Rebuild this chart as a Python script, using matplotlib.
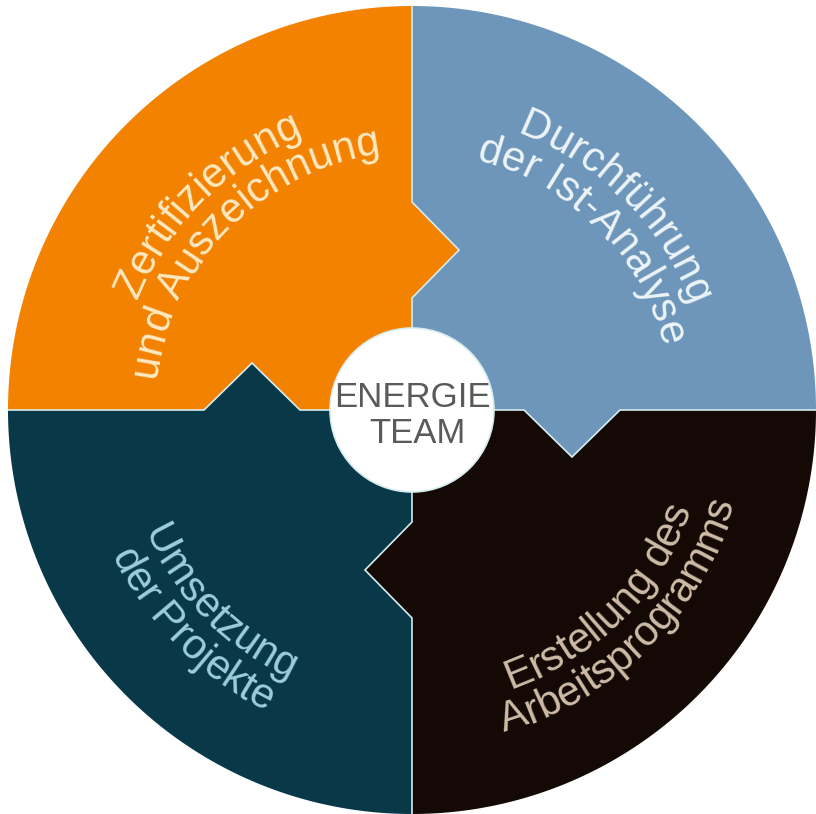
import numpy as np
import matplotlib.pyplot as plt
from matplotlib.patches import Polygon, Circle
from matplotlib.font_manager import FontProperties, findfont
from matplotlib.ft2font import FT2Font

# Phasen des Kreislaufs (gegen den Uhrzeigersinn ab 0°)
phase_lines = [["Durchführung", "der Ist-Analyse"],
               ["Zertifizierung", "und Auszeichnung"],
               ["Umsetzung", "der Projekte"],
               ["Erstellung des", "Arbeitsprogramms"]]
phase_colors = ["#6D96BA", "#F28200", "#093848", "#140904"]
text_colors = ["#EEF4F8", "#FFE9C2", "#9CCFDB", "#CDBCA6"]
start_angles = [0, 90, 180, 270]
center_label = ["ENERGIE", "TEAM"]

R = 404          # Radius des Kreises (px)
r_center = 82    # weißer Mittelkreis
notch = (112, 160, 208, 47)   # Beginn, Spitze, Ende, Tiefe der Pfeilkerbe
FS = 30          # Schriftgröße (pt)

fp = FontProperties(family="Liberation Sans", size=FS)
ft = FT2Font(findfont(fp))
ft.set_size(FS, 100)


def advance(c):
    g = ft.load_char(ord(c))
    return g.linearHoriAdvance / 65536


def divider(phi):
    # Trennlinie vom Zentrum nach außen, mit Pfeil im Uhrzeigersinn
    a = np.radians(phi)
    u = np.array([np.cos(a), np.sin(a)])
    v = np.array([np.cos(a - np.pi / 2), np.sin(a - np.pi / 2)])
    r0, rm, r1, d = notch
    return [u * 0, u * r0, u * rm + v * d, u * r1, u * R]


def arc_text(ax, s, r, mid, outward, color):
    w = np.array([advance(c) for c in s])
    pos = np.cumsum(w) - w / 2 - w.sum() / 2
    for c, p in zip(s, pos):
        if outward:
            th = np.radians(mid) - p / r
            rot = np.degrees(th) - 90
        else:
            th = np.radians(mid) + p / r
            rot = np.degrees(th) + 90
        ax.text(r * np.cos(th), r * np.sin(th), c, rotation=rot,
                rotation_mode="anchor", ha="center", va="baseline",
                fontproperties=fp, color=color)


fig = plt.figure(figsize=(8.16, 8.14), dpi=100)
ax = fig.add_axes([0, 0, 1, 1])
ax.set_xlim(-412, 404)
ax.set_ylim(-404, 410)
ax.axis("off")

for i, a0 in enumerate(start_angles):
    a1 = a0 + 90
    arc = np.radians(np.linspace(a0, a1, 120))
    pts = divider(a0)
    pts += [np.array([R * np.cos(t), R * np.sin(t)]) for t in arc]
    pts += divider(a1)[::-1]
    ax.add_patch(Polygon(np.array(pts), closed=True, facecolor=phase_colors[i],
                         edgecolor="none", zorder=1))

    mid = a0 + 45
    top = mid < 180
    radii = [296, 258] if top else [296, 335]
    for line, r in zip(phase_lines[i], radii):
        arc_text(ax, line, r, mid, top, text_colors[i])

# helle Trennkanten zwischen den Segmenten
for a0 in start_angles:
    d = np.array(divider(a0))
    ax.plot(d[:, 0], d[:, 1], color="#d6ecef", lw=1.2, solid_joinstyle="miter", zorder=2)

ax.add_patch(Circle((0, 0), r_center, facecolor="white", edgecolor="#d6ecef",
                    linewidth=1.2, zorder=3))
ax.text(0, 3, center_label[0], ha="center", va="baseline", fontsize=25,
        family="Liberation Sans", color="#5a5a5a", zorder=4)
ax.text(5, -33, center_label[1], ha="center", va="baseline", fontsize=25,
        family="Liberation Sans", color="#5a5a5a", zorder=4)

fig.savefig("out.png", dpi=100, facecolor="white")
